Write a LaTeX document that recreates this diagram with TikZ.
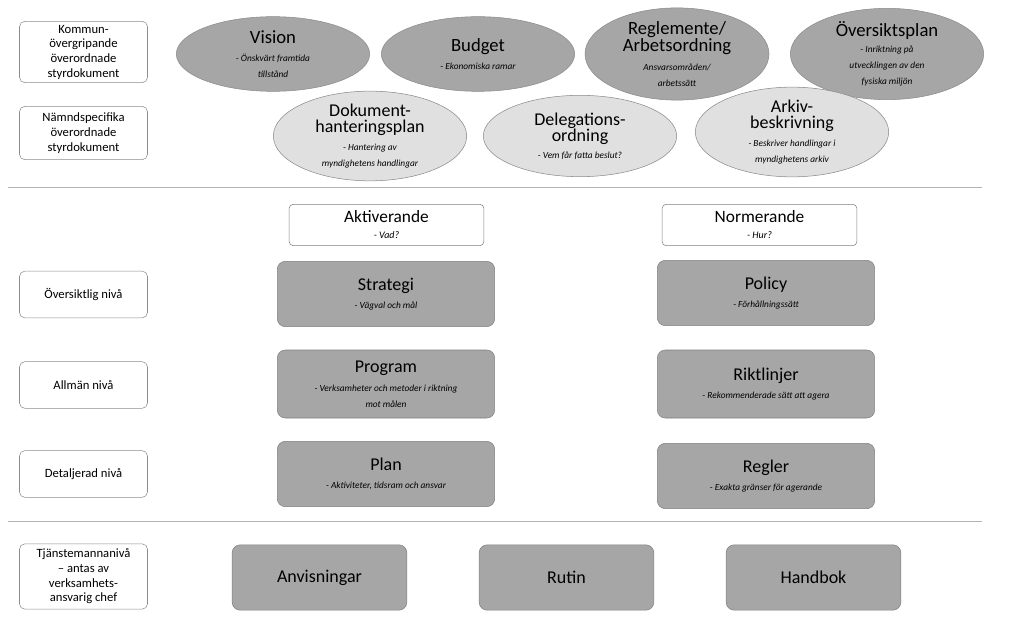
\documentclass[tikz,border=0pt]{standalone}
\usepackage{fontspec}
\setmainfont{Carlito}
\usetikzlibrary{shapes.geometric}
\newcommand\bfn{\fontsize{14}{15.5}\selectfont\upshape}
\newcommand\mfn{\fontsize{13.5}{15}\selectfont\upshape}
\newcommand\sfn{\fontsize{7}{8.5}\selectfont\itshape}
\begin{document}
\begin{tikzpicture}[x=0.75pt,y=-0.75pt,
 lab/.style={draw=black!45,rounded corners=4pt,fill=white,align=center,font=\fontsize{9.5}{11}\selectfont,inner sep=0pt},
 ell/.style={ellipse,draw=black!45,fill=black!35,inner sep=0pt,align=center},
 ell2/.style={ellipse,draw=black!45,fill=black!12,inner sep=0pt,align=center},
 gbox/.style={draw=black!50,rounded corners=6pt,fill=black!35,inner sep=0pt,align=center},
 hbox/.style={draw=black!50,rounded corners=3pt,fill=white,inner sep=0pt,align=center}]
\useasboundingbox (0,0) rectangle (1024,620);
\fill[white] (0,0) rectangle (1024,620);
\node[lab,minimum width=96pt,minimum height=46pt] (l1) at (83.5,52) {Kommun-\\övergripande\\överordnade\\styrdokument};
\node[lab,minimum width=96pt,minimum height=40pt] (l2) at (83.5,133) {Nämndspecifika\\överordnade\\styrdokument};
\node[lab,minimum width=96pt,minimum height=35pt] (l3) at (83.5,294.5) {Översiktlig nivå};
\node[lab,minimum width=96pt,minimum height=35pt] (l4) at (83.5,385) {Allmän nivå};
\node[lab,minimum width=96pt,minimum height=35pt] (l5) at (83.5,474) {Detaljerad nivå};
\node[lab,minimum width=96pt,minimum height=49pt] (l6) at (83.5,576.5) {Tjänstemannanivå\\– antas av\\verksamhets-\\ansvarig chef};
\draw[black!30] (8,187) -- (982,187) (8,521) -- (982,521);
\node[ell,minimum width=145pt,minimum height=56pt] (e1) at (273,54) {\bfn Vision\\[1pt]\sfn - Önskvärt framtida\\\sfn tillstånd};
\node[ell,minimum width=145pt,minimum height=56pt] (e2) at (478,54) {\bfn Budget\\[2pt]\sfn - Ekonomiska ramar};
\node[ell,minimum width=138pt,minimum height=60pt] (e3) at (677,54) {\bfn Reglemente/\\\bfn Arbetsordning\\[2pt]\sfn Ansvarsområden/\\\sfn arbetssätt};
\node[ell,minimum width=145pt,minimum height=56pt] (e4) at (887,54) {\bfn Översiktsplan\\\sfn - Inriktning på\\\sfn utvecklingen av den\\\sfn fysiska miljön};
\node[ell2,minimum width=145pt,minimum height=61pt] (e5) at (370,136) {\mfn Dokument-\\\mfn hanteringsplan\\[1pt]\sfn - Hantering av\\\sfn myndighetens handlingar};
\node[ell2,minimum width=145pt,minimum height=61pt] (e6) at (580,136) {\mfn Delegations-\\\mfn ordning\\[1pt]\sfn - Vem får fatta beslut?};
\node[ell2,minimum width=145pt,minimum height=60pt] (e7) at (792,132) {\mfn Arkiv-\\\mfn beskrivning\\[1pt]\sfn - Beskriver handlingar i\\\sfn myndighetens arkiv};
\node[hbox,minimum width=146pt,minimum height=31pt] (a) at (386.5,225) {\fontsize{13}{14}\selectfont Aktiverande\\\fontsize{7.5}{9}\selectfont\itshape - Vad?};
\node[hbox,minimum width=146pt,minimum height=31pt] (n) at (759.5,225) {\fontsize{13}{14}\selectfont Normerande\\\fontsize{7.5}{9}\selectfont\itshape - Hur?};
\node[gbox,minimum width=163pt,minimum height=49pt] (s) at (386,294) {\mfn Strategi\\[2pt]\sfn - Vägval och mål};
\node[gbox,minimum width=163pt,minimum height=51pt] (p) at (386,384) {\mfn Program\\[2pt]\sfn - Verksamheter och metoder i riktning\\\sfn mot målen};
\node[gbox,minimum width=163pt,minimum height=49pt] (pl) at (386,474) {\mfn Plan\\[2pt]\sfn - Aktiviteter, tidsram och ansvar};
\node[gbox,minimum width=163pt,minimum height=49pt] (po) at (766,293) {\mfn Policy\\[2pt]\sfn - Förhållningssätt};
\node[gbox,minimum width=163pt,minimum height=51pt] (r) at (766,384) {\mfn Riktlinjer\\[2pt]\sfn - Rekommenderade sätt att agera};
\node[gbox,minimum width=163pt,minimum height=49pt] (re) at (766,476) {\mfn Regler\\[2pt]\sfn - Exakta gränser för agerande};
\node[gbox,minimum width=131pt,minimum height=49pt,font=\mfn] (b1) at (319.5,577.5) {Anvisningar};
\node[gbox,minimum width=131pt,minimum height=49pt,font=\mfn] (b2) at (566.5,577.5) {Rutin};
\node[gbox,minimum width=131pt,minimum height=49pt,font=\mfn] (b3) at (813.5,577.5) {Handbok};
\end{tikzpicture}
\end{document}
